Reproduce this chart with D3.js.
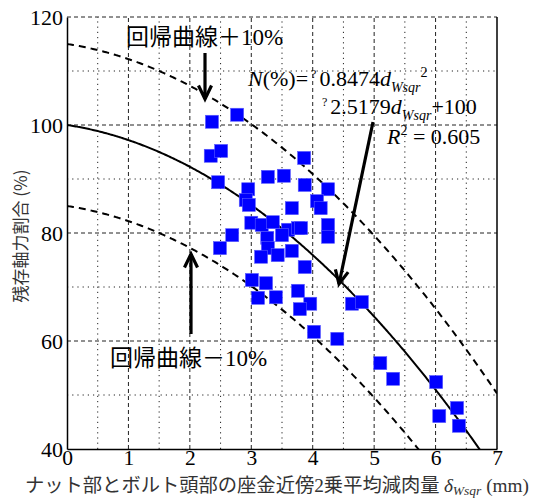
<!DOCTYPE html>
<html><head><meta charset="utf-8">
<script src="https://cdn.jsdelivr.net/npm/d3@7"></script>
<style>body{margin:0;background:#fff}
.serif{font-family:"Liberation Serif","Times New Roman","DejaVu Serif",serif}
.cjk{font-family:"Noto Sans CJK JP","Noto Sans",sans-serif}
</style>
</head><body><svg id="c" width="547" height="498"></svg>
<script>
// ---- data ----
const dWsqr = [2.36,2.77,2.34,2.51,2.46,2.95,2.91,2.96,3.27,3.53,3.86,3.87,4.25,3.66,4.07,4.13,
  3.00,3.17,3.35,3.60,3.76,4.25,4.25,2.69,2.49,3.50,3.26,3.27,3.43,3.66,3.16,3.87,
  3.01,3.24,3.11,3.40,3.76,3.96,3.79,4.02,4.40,4.64,4.80,5.10,5.31,6.01,6.06,6.35,6.38,3.81];
const residual = [100.6,101.9,94.3,95.2,89.4,88.1,86.1,85.2,90.4,90.6,93.9,88.9,88.1,84.6,85.9,84.6,
  81.9,81.5,82.0,80.6,80.9,81.5,79.3,79.6,77.2,79.6,79.1,77.2,75.9,76.7,75.6,73.7,
  71.3,70.7,68.0,68.1,69.3,66.9,65.9,61.7,60.4,66.9,67.2,55.9,53.0,52.4,46.1,47.6,44.3,80.9];
const xTicks = [0,1,2,3,4,5,6,7];
const yTicks = [40,60,80,100,120];
const xMinor = [0.5,1.5,2.5,3.5,4.5,5.5,6.5];
const yMinor = [50,70,90,110];
const fitCoef = [100, -1.72, -1.075];   // curve as drawn: c0 + c1*d + c2*d^2
const bandOffsets = [15, -15];

const svg = d3.select("#c");
const x = d3.scaleLinear().domain([0,7]).range([67,497]);
const y = d3.scaleLinear().domain([40,120]).range([449,17]);

svg.append("defs").append("clipPath").attr("id","clip")
  .append("rect").attr("x",67).attr("y",17).attr("width",430).attr("height",432);

// grid
const g = svg.append("g");
g.selectAll(".mx").data(xTicks.slice(1,-1)).join("line")
  .attr("x1",d=>x(d)).attr("x2",d=>x(d)).attr("y1",y(40)).attr("y2",y(120))
  .attr("stroke","#222").attr("stroke-width",1).attr("stroke-dasharray","4,3");
g.selectAll(".my").data(yTicks.slice(1)).join("line")
  .attr("y1",d=>y(d)).attr("y2",d=>y(d)).attr("x1",x(0)).attr("x2",x(7))
  .attr("stroke","#222").attr("stroke-width",1).attr("stroke-dasharray","4,3");
g.selectAll(".nx").data(xMinor).join("line")
  .attr("x1",d=>x(d)).attr("x2",d=>x(d)).attr("y1",y(40)).attr("y2",y(120))
  .attr("stroke","#222").attr("stroke-width",1).attr("stroke-dasharray","1.2,4");
g.selectAll(".ny").data(yMinor).join("line")
  .attr("y1",d=>y(d)).attr("y2",d=>y(d)).attr("x1",x(0)).attr("x2",x(7))
  .attr("stroke","#222").attr("stroke-width",1).attr("stroke-dasharray","1.2,4");

// axes
const fmt = d3.format("d");
const xAxis = d3.axisBottom(x).tickValues(xTicks).tickFormat(fmt).tickSize(0).tickPadding(2);
const yAxis = d3.axisLeft(y).tickValues(yTicks).tickFormat(fmt).tickSize(0).tickPadding(4);
const ax = svg.append("g").attr("transform",`translate(0,${y(40)})`).call(xAxis);
const ay = svg.append("g").attr("transform",`translate(${x(0)},0)`).call(yAxis);
[ax,ay].forEach(a=>{
  a.attr("font-family",null).attr("font-size",null);
  a.select(".domain").attr("stroke","#000").attr("stroke-width",1.5);
  a.selectAll("text").attr("class","serif").style("font-size","22px").attr("fill","#000");
});
ax.selectAll("text").style("font-size","21.5px").attr("dy","0.66em");
ay.selectAll("text").attr("dy","0.32em");
svg.append("line").attr("x1",x(7)).attr("x2",x(7)).attr("y1",y(40)).attr("y2",y(120))
  .attr("stroke","#000").attr("stroke-width",1.5);

// curves
const ds = d3.range(0,7.001,0.02);
const fit = d=>fitCoef[0]+fitCoef[1]*d+fitCoef[2]*d*d;
const line = d3.line().x(d=>x(d[0])).y(d=>y(d[1]));
const cg = svg.append("g").attr("clip-path","url(#clip)");
cg.append("path").attr("d",line(ds.map(d=>[d,fit(d)])))
  .attr("fill","none").attr("stroke","#000").attr("stroke-width",2);
bandOffsets.forEach(o=>{
  cg.append("path").attr("d",line(ds.map(d=>[d,fit(d)+o])))
    .attr("fill","none").attr("stroke","#000").attr("stroke-width",2).attr("stroke-dasharray","7,5");
});

// points
const pts = dWsqr.map((d,i)=>[d,residual[i]]);
svg.append("g").selectAll("rect").data(pts).join("rect")
  .attr("x",d=>x(d[0])-6.5).attr("y",d=>y(d[1])-6.5).attr("width",13).attr("height",13)
  .attr("fill","#0000ff").attr("stroke","#5a5aff").attr("stroke-width",0.6);

// arrows
function arrow(x1,y1,x2,y2){
  const a = Math.atan2(y2-y1,x2-x1), L=15, w=0.45;
  svg.append("line").attr("x1",x1).attr("y1",y1).attr("x2",x2).attr("y2",y2)
    .attr("stroke","#000").attr("stroke-width",3.2);
  const p = [[x2-L*Math.cos(a-w),y2-L*Math.sin(a-w)],[x2,y2],[x2-L*Math.cos(a+w),y2-L*Math.sin(a+w)]];
  svg.append("path").attr("d",d3.line()(p)).attr("fill","none")
    .attr("stroke","#000").attr("stroke-width",3.2).attr("stroke-linejoin","miter");
}
arrow(205,53,205,99);
arrow(191,334,191,254);
arrow(373,122,339,284);

// labels
function cjkLabel(tx,ty,s1,s2){
  const t = svg.append("text").attr("x",tx).attr("y",ty).style("font-size","23px").attr("fill","#000");
  t.append("tspan").attr("class","cjk").text(s1);
  t.append("tspan").attr("class","serif").text(s2);
}
cjkLabel(126,45,"回帰曲線＋","10%");
cjkLabel(110,366,"回帰曲線－","10%");

// formula
const f1 = svg.append("text").attr("class","serif").attr("x",248).attr("y",86).style("font-size","22px");
f1.append("tspan").attr("font-style","italic").text("N");
f1.append("tspan").text("(%)=");
f1.append("tspan").style("font-size","12px").attr("dy",-8).attr("dx",3).text("?");
f1.append("tspan").attr("dy",8).attr("dx",3).text("0.8474");
f1.append("tspan").attr("font-style","italic").text("d");
f1.append("tspan").attr("font-style","italic").style("font-size","14px").attr("dy",6).text("Wsqr");
f1.append("tspan").style("font-size","14px").attr("dy",-15).text("2");
const f2 = svg.append("text").attr("class","serif").attr("x",322).attr("y",114).style("font-size","22px");
f2.append("tspan").style("font-size","12px").attr("dy",-8).text("?");
f2.append("tspan").attr("dy",8).attr("dx",3).text("2.5179");
f2.append("tspan").attr("font-style","italic").text("d");
f2.append("tspan").attr("font-style","italic").style("font-size","14px").attr("dy",6).text("Wsqr");
f2.append("tspan").attr("dy",-6).text("+100");
const f3 = svg.append("text").attr("class","serif").attr("x",387).attr("y",144).style("font-size","22px");
f3.append("tspan").attr("font-style","italic").text("R");
f3.append("tspan").style("font-size","14px").attr("dy",-9).text("2");
f3.append("tspan").attr("dy",9).text(" = 0.605");

// axis titles
svg.append("text").attr("class","cjk").attr("transform","translate(27,236) rotate(-90)")
  .attr("text-anchor","middle").style("font-size","17px").attr("fill","#333")
  .text("残存軸力割合 (%)");
const xl = svg.append("text").attr("x",25).attr("y",491.5).style("font-size","19.3px").attr("fill","#333");
xl.append("tspan").attr("class","cjk").text("ナット部とボルト頭部の座金近傍");
xl.append("tspan").attr("class","serif").text("2");
xl.append("tspan").attr("class","cjk").text("乗平均減肉量 ");
xl.append("tspan").attr("class","serif").attr("font-style","italic").text("δ");
xl.append("tspan").attr("class","serif").attr("font-style","italic").style("font-size","13.5px").attr("dy",3).text("Wsqr");
xl.append("tspan").attr("class","serif").attr("dy",-3).text(" (mm)");
</script></body></html>
